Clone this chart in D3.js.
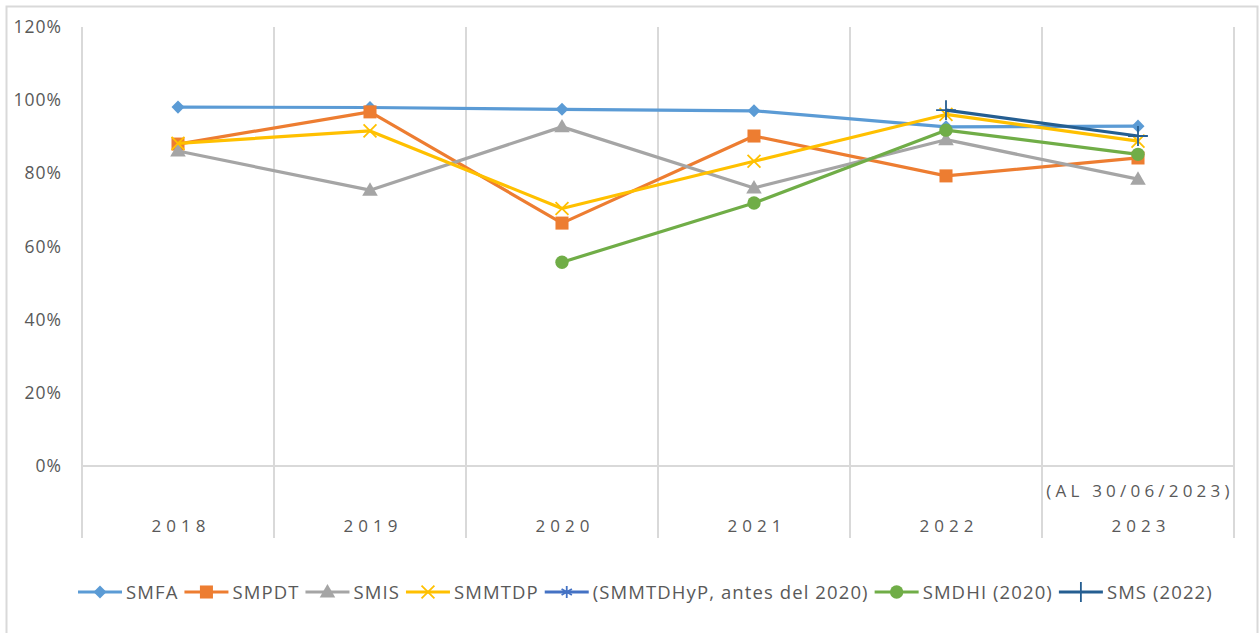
<!DOCTYPE html>
<html>
<head>
<meta charset="utf-8">
<script src="https://cdn.jsdelivr.net/npm/d3@7"></script>
<style>
  body { margin: 0; background: #fff; }
  text { font-family: "Open Sans", sans-serif; fill: #595959; }
</style>
</head>
<body>
<div id="chart"></div>
<script>
// chart canvas
var width = 1260, height = 633;
var plot = {left: 82, right: 1234, top: 27, bottom: 466, gridBottom: 538};

// data
var years = ["2018", "2019", "2020", "2021", "2022", "2023"];
var yTicks = [0, 0.2, 0.4, 0.6, 0.8, 1.0, 1.2];
var smfa     = [0.981, 0.980, 0.975, 0.971, 0.927, 0.929];
var smpdt    = [0.880, 0.968, 0.664, 0.902, 0.793, 0.842];
var smis     = [0.861, 0.754, 0.927, 0.760, 0.892, 0.784];
var smmtdp   = [0.882, 0.916, 0.704, 0.833, 0.961, 0.888];
var smmtdhyp = [null, null, null, null, null, null];
var smdhi    = [null, null, 0.557, 0.719, 0.918, 0.852];
var sms      = [null, null, null, null, 0.973, 0.902];

var series = [
    {name: "SMFA", values: smfa, color: "#5B9BD5", marker: "diamond"},
    {name: "SMPDT", values: smpdt, color: "#ED7D31", marker: "square"},
    {name: "SMIS", values: smis, color: "#A5A5A5", marker: "triangle"},
    {name: "SMMTDP", values: smmtdp, color: "#FFC000", marker: "x"},
    {name: "(SMMTDHyP, antes del 2020)", values: smmtdhyp, color: "#4472C4", marker: "asterisk"},
    {name: "SMDHI (2020)", values: smdhi, color: "#70AD47", marker: "circle"},
    {name: "SMS (2022)", values: sms, color: "#255E91", marker: "plus"}
];

var svg = d3.select("#chart").append("svg")
    .attr("width", width)
    .attr("height", height);

// outer chart border
svg.append("rect")
    .attr("x", 6.5).attr("y", 6.5)
    .attr("width", 1251).attr("height", 640)
    .attr("fill", "none")
    .attr("stroke", "#D9D9D9")
    .attr("stroke-width", 2);

var x = d3.scaleBand()
    .domain(years)
    .range([plot.left, plot.right]);

var y = d3.scaleLinear()
    .domain([0, 1.2])
    .range([plot.bottom, plot.top]);

// vertical gridlines between categories
var edges = years.map(d => x(d)).concat([plot.right]);
svg.append("g").selectAll("line")
    .data(edges)
    .enter()
    .append("line")
        .attr("x1", d => d).attr("x2", d => d)
        .attr("y1", plot.top).attr("y2", plot.gridBottom)
        .attr("stroke", "#D9D9D9")
        .attr("stroke-width", 2);

// zero line
svg.append("line")
    .attr("x1", plot.left).attr("x2", plot.right)
    .attr("y1", y(0)).attr("y2", y(0))
    .attr("stroke", "#D9D9D9")
    .attr("stroke-width", 2);

// y axis labels
var yAxis = svg.append("g")
    .attr("transform", "translate(" + 62 + ",0)")
    .call(d3.axisLeft(y).tickValues(yTicks).tickFormat(d3.format(".0%")).tickSize(0).tickPadding(0));
yAxis.select(".domain").remove();
yAxis.selectAll("text")
    .style("font-size", "17.5px")
    .style("letter-spacing", "1px")
    .attr("fill", "#595959");

// x axis labels
svg.append("g").selectAll("text")
    .data(years)
    .enter()
    .append("text")
        .attr("x", d => x(d) + x.bandwidth() / 2 + 3)
        .attr("y", 532)
        .attr("text-anchor", "middle")
        .style("font-size", "17px")
        .style("letter-spacing", "5px")
        .text(d => d);

svg.append("text")
    .attr("x", x("2023") + x.bandwidth() / 2 + 2)
    .attr("y", 497)
    .attr("text-anchor", "middle")
    .style("font-size", "17px")
    .style("letter-spacing", "4.2px")
    .text("(AL 30/06/2023)");

// marker shapes
function markerPath(type) {
    var sym = {
        diamond: d3.symbol(d3.symbolSquare, 85),
        square: d3.symbol(d3.symbolSquare, 170),
        triangle: d3.symbol(d3.symbolTriangle, 105),
        x: d3.symbol(d3.symbolX, 110),
        asterisk: d3.symbol(d3.symbolAsterisk, 100),
        circle: d3.symbol(d3.symbolCircle, 140),
        plus: d3.symbol(d3.symbolPlus, 130)
    }[type];
    return sym();
}
function isStroke(type) {
    return type == "x" || type == "asterisk" || type == "plus";
}
function markerTransform(type, px, py) {
    if (type == "diamond") return "translate(" + px + "," + py + ") rotate(45)";
    if (type == "triangle") return "translate(" + px + "," + (py + 1) + ")";
    return "translate(" + px + "," + py + ")";
}

var line = d3.line()
    .defined(d => d.v != null)
    .x(d => x(d.year) + x.bandwidth() / 2)
    .y(d => y(d.v));

for (const s of series) {
    let pts = years.map((yr, i) => ({year: yr, v: s.values[i]}));
    let g = svg.append("g");
    g.append("path")
        .attr("d", line(pts))
        .attr("fill", "none")
        .attr("stroke", s.color)
        .attr("stroke-width", 3.2)
        .attr("stroke-linejoin", "round");
    g.selectAll("path.marker")
        .data(pts.filter(d => d.v != null))
        .enter()
        .append("path")
            .attr("class", "marker")
            .attr("d", markerPath(s.marker))
            .attr("transform", d => markerTransform(s.marker, x(d.year) + x.bandwidth() / 2, y(d.v)))
            .attr("fill", isStroke(s.marker) ? "none" : s.color)
            .attr("stroke", s.color)
            .attr("stroke-width", isStroke(s.marker) ? 1.8 : 0);
}

// legend, laid out from the text widths
var legend = svg.append("g");
var lx = 78, ly = 592;
for (const s of series) {
    let item = legend.append("g");
    item.append("line")
        .attr("x1", lx).attr("x2", lx + 44)
        .attr("y1", ly).attr("y2", ly)
        .attr("stroke", s.color)
        .attr("stroke-width", 3.2);
    item.append("path")
        .attr("d", markerPath(s.marker))
        .attr("transform", markerTransform(s.marker, lx + 22, ly))
        .attr("fill", isStroke(s.marker) ? "none" : s.color)
        .attr("stroke", s.color)
        .attr("stroke-width", isStroke(s.marker) ? 1.8 : 0);
    let t = item.append("text")
        .attr("x", lx + 48)
        .attr("y", ly + 6.5)
        .style("font-size", "18.5px")
        .style("letter-spacing", "1.1px")
        .text(s.name);
    lx = lx + 48 + t.node().getComputedTextLength() + 6;
}
</script>
</body>
</html>
